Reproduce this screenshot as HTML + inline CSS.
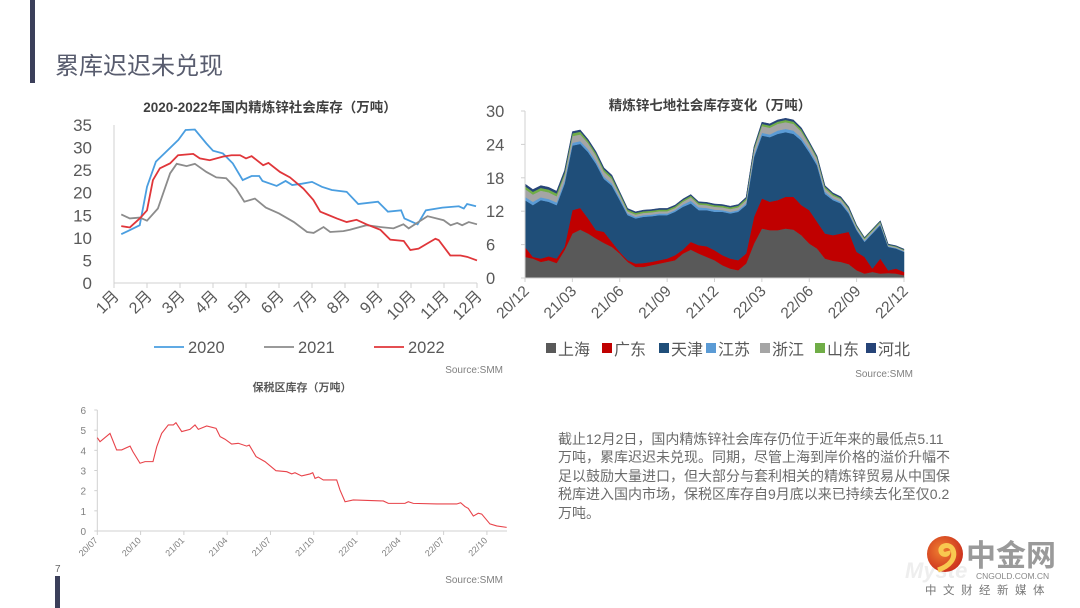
<!DOCTYPE html>
<html><head><meta charset="utf-8">
<style>
html,body{margin:0;padding:0;background:#fff;}
body{width:1080px;height:608px;overflow:hidden;position:relative;font-family:"Liberation Sans","Noto Sans CJK SC",sans-serif;}
svg{position:absolute;left:0;top:0;}
text{font-family:"Liberation Sans","Noto Sans CJK SC",sans-serif;}
#para{position:absolute;left:558px;top:430px;width:440px;white-space:nowrap;font-size:14px;line-height:18.4px;color:#6b6b6b;font-family:"Liberation Sans","Noto Sans CJK SC",sans-serif;}
</style></head>
<body>
<svg id="svg" width="1080" height="608" viewBox="0 0 1080 608" xmlns="http://www.w3.org/2000/svg">
  <rect x="30" y="0" width="5" height="83" fill="#3b3f5a"/>
  <text x="55" y="74" font-size="24" fill="#585c6e" font-family="Liberation Sans, Noto Sans CJK SC, sans-serif">累库迟迟未兑现</text>
  <rect x="55" y="576" width="5" height="32" fill="#3b3f5a"/>
  <text x="55" y="572" font-size="10" fill="#666">7</text>
  <g id="c1"></g>
  <g id="c2"></g>
  <g id="c3"></g>
  <g>
    <text x="905" y="578" font-size="22" font-weight="bold" font-style="italic" fill="#eeeeee">Myste</text>
    <defs><radialGradient id="lg" cx="0.4" cy="0.4" r="0.7"><stop offset="0" stop-color="#f08030"/><stop offset="1" stop-color="#c8281c"/></radialGradient></defs>
    <circle cx="945" cy="554" r="18" fill="url(#lg)"/>
    <path d="M938 570 C950 566 956 558 953 550 C950 543 940 545 941 551 C942 556 949 555 948 551" fill="none" stroke="#f8c850" stroke-width="5"/>
    <text x="966" y="566" font-size="30" font-weight="bold" fill="#9a9a9a">中金网</text>
    <text x="976" y="579" font-size="8.5" fill="#888">CNGOLD.COM.CN</text>
    <text x="925" y="594" font-size="11.5" fill="#777" letter-spacing="6.5">中文财经新媒体</text>
  </g>
</svg>
<div id="para">截止12月2日，国内精炼锌社会库存仍位于近年来的最低点5.11<br>万吨，累库迟迟未兑现。同期，尽管上海到岸价格的溢价升幅不<br>足以鼓励大量进口，但大部分与套利相关的精炼锌贸易从中国保<br>税库进入国内市场，保税区库存自9月底以来已持续去化至仅0.2<br>万吨。</div>
<script>
// ---- Chart 1 data ----
const c1Months = ["1月","2月","3月","4月","5月","6月","7月","8月","9月","10月","11月","12月"];
const c1Ticks = [0,5,10,15,20,25,30,35];
const s2020x = [0.22,0.78,1.0,1.27,1.95,2.17,2.45,2.8,3.0,3.3,3.6,3.9,4.17,4.4,4.5,4.93,5.2,5.4,5.7,6.0,6.3,6.6,7.05,7.4,8.0,8.3,8.7,8.8,9.2,9.45,9.95,10.45,10.6,10.7,10.97];
const s2020y = [10.8,12.8,21.3,26.9,31.7,33.9,34,30.9,29.3,28.7,26.5,22.8,23.7,23.7,22.6,21.5,22.6,21.7,22,22.4,21.3,20.6,20.2,17.5,18,15.8,16.1,14.3,13,16.1,16.7,17,16.5,17.5,17];
const s2021x = [0.22,0.48,0.78,1.0,1.33,1.7,1.9,2.2,2.45,2.8,3.1,3.4,3.7,3.95,4.27,4.6,5.0,5.45,5.85,6.05,6.35,6.55,6.95,7.15,7.65,8.07,8.47,8.77,8.93,9.18,9.5,9.99,10.2,10.4,10.55,10.75,11];
const s2021y = [15.2,14.3,14.5,13.8,16.5,24.3,26.4,25.9,26.4,24.6,23.4,23.2,20.9,18,18.7,16.7,15.4,13.5,11.3,11.1,12.4,11.3,11.5,11.8,12.8,12.4,12.1,13,12.1,13.3,14.8,13.9,12.8,13.3,12.8,13.5,13];
const s2022x = [0.22,0.48,0.78,1.0,1.18,1.39,1.7,1.94,2.4,2.6,2.9,3.3,3.56,3.82,4.0,4.17,4.52,4.68,5.03,5.33,5.74,6.04,6.25,6.45,6.75,7.05,7.35,7.65,8.07,8.37,8.78,8.98,9.23,9.48,9.74,9.84,10.19,10.5,10.7,11];
const s2022y = [12.6,12.3,14.3,16.1,22.8,25.4,26.5,28.3,28.6,27.6,27.2,28,28.3,28.3,27.6,28.1,26.1,26.6,24.6,23.4,20.9,18.4,15.8,15.2,14.3,13.5,14,13,11.8,9.6,9.3,7.3,7.6,8.7,9.8,9.5,6.1,6.1,5.8,5];

// ---- Chart 2 data (half-month steps from 20/12 to 22/12) ----
const c2Labels = ["20/12","21/03","21/06","21/09","21/12","22/03","22/06","22/09","22/12"];
const c2Ticks = [0,6,12,18,24,30];
const c2Names = ["上海","广东","天津","江苏","浙江","山东","河北"];
const shanghai = [3.8,3.5,2.9,3.2,2.7,5.0,8.0,8.7,8.0,7.1,6.3,5.6,4.4,2.9,2.0,2.0,2.3,2.6,2.9,3.2,4.4,5.1,4.4,3.8,3.2,2.3,1.7,1.4,2.6,6.2,8.9,8.6,8.6,8.9,8.7,7.7,6.2,5.3,3.5,3.1,2.9,2.5,1.4,0.8,1.1,0.8,0.9,0.8,0.5];
const guangdong = [1.8,0.3,0.6,0.7,0.8,0.6,4.2,3.9,2.7,1.5,2.0,0.9,0.3,0.3,0.6,0.7,0.6,0.6,0.6,0.9,0.7,1.4,1.5,1.9,1.8,1.8,1.8,1.8,1.8,4.8,5.4,5.1,5.4,5.7,5.9,5.4,6.0,4.8,4.5,4.6,5.1,5.8,3.3,3.0,0.6,2.7,0.5,0.9,0.6];
const tianjin = [8.4,9.3,10.5,9.8,9.6,11.3,11.6,11.5,11.9,11.9,9.5,10.1,9.3,8.1,8.1,8.3,8.2,8.1,7.8,7.8,7.7,6.9,6.3,6.5,6.9,7.8,8.1,8.7,8.7,10.7,11.3,11.6,11.9,11.6,11.3,11.6,10.4,10.1,7.1,6.3,5.4,3.3,3.9,2.7,6.3,6.0,4.2,3.6,3.6];
const jiangsu = [0.6,0.6,0.5,0.5,0.5,0.5,0.5,0.5,0.5,0.5,0.4,0.4,0.4,0.3,0.3,0.3,0.3,0.3,0.3,0.3,0.4,0.5,0.5,0.4,0.4,0.3,0.3,0.3,0.3,0.4,0.5,0.5,0.6,0.6,0.6,0.5,0.5,0.4,0.4,0.3,0.3,0.3,0.2,0.2,0.2,0.2,0.1,0.1,0.1];
const zhejiang = [1.4,1.3,1.2,1.2,1.1,1.1,1.2,1.2,1.1,1.0,0.9,0.8,0.6,0.4,0.4,0.4,0.4,0.4,0.4,0.4,0.5,0.6,0.5,0.5,0.5,0.5,0.5,0.5,0.6,1.0,1.2,1.2,1.2,1.2,1.2,1.1,0.9,0.8,0.6,0.5,0.5,0.5,0.4,0.3,0.3,0.3,0.2,0.2,0.2];
const shandong = [0.5,0.5,0.5,0.5,0.5,0.4,0.5,0.5,0.4,0.4,0.4,0.4,0.3,0.3,0.3,0.3,0.3,0.3,0.3,0.3,0.3,0.3,0.3,0.3,0.3,0.3,0.3,0.3,0.3,0.3,0.4,0.4,0.4,0.4,0.4,0.4,0.3,0.3,0.3,0.3,0.2,0.2,0.2,0.2,0.2,0.2,0.1,0.1,0.1];
const hebei = [0.4,0.4,0.4,0.4,0.4,0.4,0.3,0.3,0.3,0.3,0.3,0.3,0.2,0.2,0.2,0.2,0.2,0.2,0.2,0.2,0.2,0.2,0.2,0.2,0.2,0.2,0.2,0.2,0.2,0.2,0.3,0.3,0.3,0.3,0.3,0.3,0.2,0.2,0.2,0.2,0.2,0.2,0.1,0.1,0.1,0.1,0.1,0.1,0.1];

// ---- Chart 3 data (months since 20/07) ----
const c3Labels = ["20/07","20/10","21/01","21/04","21/07","21/10","22/01","22/04","22/07","22/10"];
const c3Ticks = [0,1,2,3,4,5,6];
const bondX = [0,0.19,0.88,1.34,1.69,2.27,2.47,2.96,3.31,3.86,4.12,4.46,4.92,5.27,5.45,5.85,6.42,6.77,7.0,7.58,8.23,8.51,8.85,9.31,9.77,10.35,10.53,11.0,11.62,12.38,13.13,13.47,13.7,14.16,14.74,14.93,15.09,15.32,15.66,16.59,16.82,17.17,17.74,19.82,20.17,21.32,21.55,21.9,23.52,24.91,25.18,25.48,25.71,26.06,26.4,26.64,27.21,27.68,28.37];
const bondY = [4.63,4.43,4.84,4.02,4.02,4.21,3.93,3.36,3.44,3.44,4.18,4.84,5.26,5.26,5.37,4.93,5.04,5.26,5.04,5.21,5.09,4.68,4.55,4.31,4.35,4.21,4.26,3.69,3.44,2.99,2.94,2.83,2.89,2.73,2.83,2.89,2.61,2.68,2.53,2.53,2.03,1.45,1.54,1.49,1.37,1.37,1.45,1.37,1.34,1.34,1.40,1.21,1.12,0.74,0.88,0.84,0.35,0.25,0.18];

const NS='http://www.w3.org/2000/svg';
function mk(parent,tag,attrs,txt){const e=document.createElementNS(NS,tag);for(const k in attrs)e.setAttribute(k,attrs[k]);if(txt!==undefined)e.textContent=txt;parent.appendChild(e);return e;}
const AX='#d0d0d0', LBL='#595959';

// ===== Chart 1 =====
(function(){
  const g=document.getElementById('c1');
  const x0=114,x1=477,y0=283,y1=125;
  const xs=m=>x0+(x1-x0)*m/11, ys=v=>y0-(y0-y1)*v/35;
  let t=mk(g,'text',{x:270,y:112,'font-size':13.5,'font-weight':'bold','text-anchor':'middle',fill:'#404040'},'2020-2022年国内精炼锌社会库存（万吨）');
  
  
  mk(g,'line',{x1:x0,y1:y0,x2:x0,y2:y1,stroke:AX});
  mk(g,'line',{x1:x0,y1:y0,x2:x1,y2:y0,stroke:AX});
  c1Ticks.forEach(v=>{const l=mk(g,'text',{x:92,y:ys(v)+6,'font-size':17,'text-anchor':'end',fill:LBL},String(v));
    
    });
  c1Months.forEach((m,i)=>{const x=xs(i);mk(g,'line',{x1:x,y1:y0,x2:x,y2:y0+5,stroke:AX});
    const l=mk(g,'text',{x:x+6,y:y0+14,'font-size':16,'text-anchor':'end',fill:LBL,transform:`rotate(-45 ${x+6} ${y0+14})`},m);
    
    });
  const ser=[[s2020x,s2020y,'#4a9ee0','2020'],[s2021x,s2021y,'#8c8c8c','2021'],[s2022x,s2022y,'#e0363a','2022']];
  ser.forEach(([xa,ya,c,n],k)=>{
    const p=mk(g,'polyline',{points:xa.map((m,i)=>xs(m)+','+ys(ya[i])).join(' '),fill:'none',stroke:c,'stroke-width':1.8});
    
    
    const lx=154+k*110;
    mk(g,'line',{x1:lx,y1:347,x2:lx+30,y2:347,stroke:c,'stroke-width':1.8});
    const lt=mk(g,'text',{x:lx+34,y:353,'font-size':16.5,fill:LBL},n);
    
    
  });
  mk(g,'text',{x:503,y:373,'font-size':10,'text-anchor':'end',fill:'#808080'},'Source:SMM');
})();

// ===== Chart 2 =====
(function(){
  const g=document.getElementById('c2');
  const x0=525,x1=904,y0=278,y1=111;
  const xs=h=>x0+(x1-x0)*h/48, ys=v=>y0-(y0-y1)*v/30;
  let t=mk(g,'text',{x:710,y:110,'font-size':13.5,'font-weight':'bold','text-anchor':'middle',fill:'#404040'},'精炼锌七地社会库存变化（万吨）');
  
  
  const series=[shanghai,guangdong,tianjin,jiangsu,zhejiang,shandong,hebei];
  const cols=['#595959','#c00000','#1f4e79','#5b9bd5','#a5a5a5','#70ad47','#264478'];
  let base=shanghai.map(()=>0);
  series.forEach((s,k)=>{
    const top=base.map((b,i)=>b+s[i]);
    const pts=top.map((v,i)=>xs(i)+','+ys(v)).concat(base.map((v,i)=>xs(i)+','+ys(v)).reverse());
    const p=mk(g,'polygon',{points:pts.join(' '),fill:cols[k],stroke:cols[k],'stroke-width':0.5});
    
    
    base=top;
  });
  mk(g,'line',{x1:x0,y1:y0,x2:x0,y2:y1,stroke:AX});
  mk(g,'line',{x1:x0,y1:y0,x2:x1,y2:y0,stroke:AX});
  c2Ticks.forEach(v=>{mk(g,'line',{x1:x0-4,y1:ys(v),x2:x0,y2:ys(v),stroke:AX});
    const l=mk(g,'text',{x:486,y:ys(v)+6,'font-size':16.5,fill:LBL},String(v));
    
    });
  c2Labels.forEach((m,i)=>{const x=xs(i*6);mk(g,'line',{x1:x,y1:y0,x2:x,y2:y0+4,stroke:AX});
    const l=mk(g,'text',{x:x+5,y:y0+14,'font-size':15.5,'text-anchor':'end',fill:LBL,transform:`rotate(-45 ${x+5} ${y0+14})`},m);
    
    });
  const lx=[546,602,659,706,760,815,866];
  c2Names.forEach((n,k)=>{
    mk(g,'rect',{x:lx[k],y:343,width:10,height:10,fill:cols[k]});
    const lt=mk(g,'text',{x:lx[k]+12,y:355,'font-size':16,fill:LBL},n);
    
    
  });
  mk(g,'text',{x:913,y:377,'font-size':10,'text-anchor':'end',fill:'#808080'},'Source:SMM');
})();

// ===== Chart 3 =====
(function(){
  const g=document.getElementById('c3');
  const x0=97.3,y0=531,y1=410,mpx=14.43;
  const xs=m=>x0+m*mpx, ys=v=>y0-(y0-y1)*v/6;
  let t=mk(g,'text',{x:302,y:391,'font-size':11,'font-weight':'bold','text-anchor':'middle',fill:'#595959'},'保税区库存（万吨）');
  
  
  mk(g,'line',{x1:x0,y1:y0,x2:x0,y2:y1,stroke:AX});
  mk(g,'line',{x1:x0,y1:y0,x2:507,y2:y0,stroke:AX});
  c3Ticks.forEach(v=>{mk(g,'line',{x1:x0-3,y1:ys(v),x2:x0,y2:ys(v),stroke:AX});
    const l=mk(g,'text',{x:86,y:ys(v)+4,'font-size':10,'text-anchor':'end',fill:'#808080'},String(v));
    
    });
  c3Labels.forEach((m,i)=>{const x=xs(i*3);mk(g,'line',{x1:x,y1:y0,x2:x,y2:y0+4,stroke:AX});
    const l=mk(g,'text',{x:x+1,y:y0+10,'font-size':9,'text-anchor':'end',fill:'#808080',transform:`rotate(-45 ${x+1} ${y0+10})`},m);
    
    });
  const p=mk(g,'polyline',{points:bondX.map((m,i)=>xs(m)+','+ys(bondY[i])).join(' '),fill:'none',stroke:'#e8434a','stroke-width':1.1});
  
  
  mk(g,'text',{x:503,y:583,'font-size':10,'text-anchor':'end',fill:'#808080'},'Source:SMM');
})();
</script>
</body></html>
